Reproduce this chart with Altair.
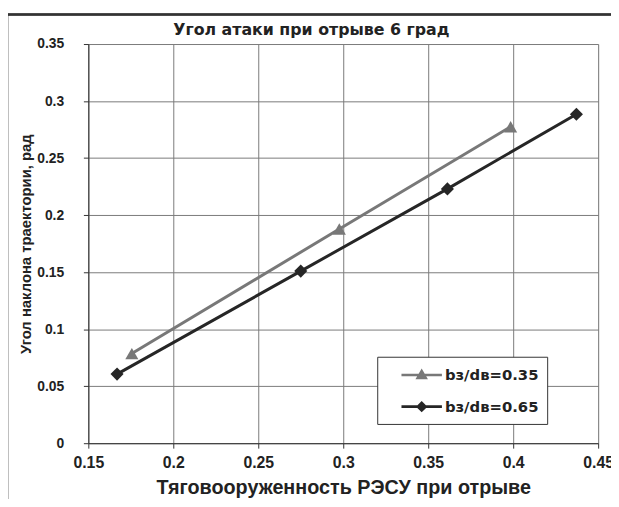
import altair as alt
import pandas as pd

title_text = "Угол атаки при отрыве 6 град"
series_names = ["bз/dв=0.35", "bз/dв=0.65"]
x_035 = [0.1756, 0.2977, 0.3985]
y_035 = [0.0786, 0.1878, 0.2775]
x_065 = [0.1669, 0.2750, 0.3613, 0.4372]
y_065 = [0.0606, 0.1509, 0.2230, 0.2885]

x_ticks = [0.15, 0.2, 0.25, 0.3, 0.35, 0.4, 0.45]
y_ticks = [0, 0.05, 0.1, 0.15, 0.2, 0.25, 0.3, 0.35]

rows = []
for xv, yv in zip(x_035, y_035):
    rows.append({"x": xv, "y": yv, "s": series_names[0]})
for xv, yv in zip(x_065, y_065):
    rows.append({"x": xv, "y": yv, "s": series_names[1]})
df = pd.DataFrame(rows)

FONT = "Liberation Sans"
WIDE = "DejaVu Sans"
colors = ["#787878", "#262626"]
legend_paths = [
    "M-2.2,-0.14H2.2V0.14H-2.2Z M0,-0.7L0.68,0.45L-0.68,0.45Z",
    "M-2.2,-0.14H2.2V0.14H-2.2Z M0,-0.62L0.62,0L0,0.62L-0.62,0Z",
]

color_scale = alt.Scale(domain=series_names, range=colors)

leg = alt.Legend(
    title=None,
    orient="none",
    legendX=292.4,
    legendY=316.5,
    fillColor="white",
    strokeColor="#333333",
    padding=8,
    labelFont=WIDE,
    labelFontSize=15,
    labelFontWeight="bold",
    labelColor="#222222",
    labelExpr="datum.label + '      '",
    symbolSize=346,
    symbolOffset=26.5,
    labelOffset=13,
    rowPadding=13,
)

xenc = alt.X(
    "x:Q",
    scale=alt.Scale(domain=[0.15, 0.45], nice=False, zero=False),
    axis=alt.Axis(
        values=x_ticks,
        format="~g",
        title="Тяговооруженность РЭСУ при отрыве",
        titleFont=FONT,
        titleFontSize=20,
        titleFontWeight="bold",
        titleColor="#222222",
        titleY=50.5,
        titleBaseline="alphabetic",
        labelFont=FONT,
        labelFontSize=16,
        labelFontWeight="bold",
        labelColor="#222222",
        labelPadding=7,
        tickSize=5,
        tickColor="#333333",
        domainColor="#333333",
        gridColor="#7a7a7a",
        labelFlush=False,
    ),
)
yenc = alt.Y(
    "y:Q",
    scale=alt.Scale(domain=[0, 0.35], nice=False),
    axis=alt.Axis(
        values=y_ticks,
        format="~g",
        title="Угол наклона траектории, рад",
        titleFont=FONT,
        titleFontSize=15,
        titleFontWeight="bold",
        titleColor="#222222",
        titlePadding=3,
        labelFont=FONT,
        labelFontSize=14,
        labelFontWeight="bold",
        labelColor="#222222",
        labelPadding=20,
        tickSize=5,
        tickColor="#333333",
        domainColor="#333333",
        gridColor="#7a7a7a",
    ),
)

base = alt.Chart(df)
lines = base.mark_line(strokeWidth=3).encode(
    x=xenc, y=yenc, color=alt.Color("s:N", scale=color_scale, legend=None), detail="s:N"
)
pts = base.mark_point(filled=True, size=175, opacity=1).encode(
    x="x:Q",
    y="y:Q",
    color=alt.Color("s:N", scale=color_scale, legend=None),
    shape=alt.Shape("s:N", scale=alt.Scale(domain=series_names, range=["triangle-up", "diamond"]), legend=None),
)
legend_layer = base.mark_point(filled=True, opacity=1).encode(
    x="x:Q",
    y="y:Q",
    fill=alt.Fill("s:N", scale=alt.Scale(domain=series_names, range=colors), legend=leg),
    shape=alt.Shape("s:N", scale=alt.Scale(domain=series_names, range=legend_paths), legend=leg),
).transform_filter("false")

title_layer = alt.Chart(pd.DataFrame({"t": [title_text]})).mark_text(
    font=WIDE, fontSize=16, fontWeight="bold", color="#222222",
    align="center", baseline="alphabetic",
).encode(text="t:N", x=alt.value(225.7), y=alt.value(-8.8))

frame_left = alt.Chart(df).mark_rule(color="#333333", strokeWidth=1.5).encode(
    x=alt.value(-82), y=alt.value(-29.8), y2=alt.value(480)
)
frame_top = alt.Chart(df).mark_rule(color="#333333", strokeWidth=1.5).encode(
    x=alt.value(-82), x2=alt.value(540), y=alt.value(-29.8)
)

chart = (
    alt.layer(lines, pts, legend_layer, title_layer, frame_left, frame_top)
    .resolve_scale(shape="independent", fill="independent")
    .properties(
        width=516,
        height=404,
        padding={"left": 81.3, "top": 33.5, "right": 13, "bottom": 53.5},
        autosize=alt.AutoSizeParams(type="none"),
    )
    .configure_view(stroke="#7a7a7a")
    .configure(background="white")
)

chart.save("out.html", embed_options={"renderer": "svg", "actions": False})
